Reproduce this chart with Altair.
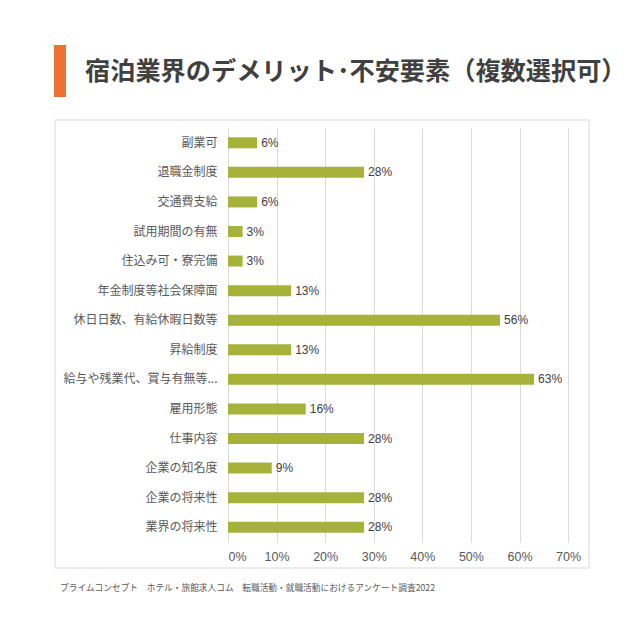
import altair as alt
import pandas as pd

categories = ["副業可", "退職金制度", "交通費支給", "試用期間の有無", "住込み可・寮完備",
              "年金制度等社会保障面", "休日日数、有給休暇日数等", "昇給制度",
              "給与や残業代、賞与有無等...", "雇用形態", "仕事内容", "企業の知名度",
              "企業の将来性", "業界の将来性"]
values = [6, 28, 6, 3, 3, 13, 56, 13, 63, 16, 28, 9, 28, 28]
x_ticks = [0, 10, 20, 30, 40, 50, 60, 70]
title_text = "宿泊業界のデメリット･不安要素（複数選択可）"
source_text = "プライムコンセプト　ホテル・旅館求人コム　転職活動・就職活動におけるアンケート調査2022"

FONT = "Noto Sans CJK JP"
NUMFONT = "Liberation Sans, Arial, sans-serif"
df = pd.DataFrame({"cat": categories, "val": values})
df["label"] = df["val"].astype(str) + "%"

W, H = 361, 414

x_enc = alt.X("val:Q", scale=alt.Scale(domain=[0, 74.3], nice=False),
              axis=alt.Axis(values=x_ticks, labelExpr="datum.value + '%'", title=None,
                            domain=False, ticks=False, grid=True, gridColor="#d9d9d9",
                            labelFont=NUMFONT, labelFontSize=12.5, labelColor="#595959",
                            labelPadding=8))
y_enc = alt.Y("cat:N", sort=None,
              axis=alt.Axis(title=None, domain=False, ticks=False, labelFont=FONT,
                            labelFontSize=12, labelColor="#595959", labelPadding=11,
                            labelLimit=300))

one = pd.DataFrame({"t": [title_text]})
src = pd.DataFrame({"t": [source_text]})

frame = alt.Chart(one).mark_rect(fillOpacity=0, stroke="#d9d9d9", strokeWidth=1).encode(
    x=alt.value(-173), x2=alt.value(361), y=alt.value(-8), y2=alt.value(440))

bars = alt.Chart(df).mark_bar(size=11, color="#a6b23a").encode(x=x_enc, y=y_enc)
labels = alt.Chart(df).mark_text(align="left", dx=4, font=NUMFONT, fontSize=12,
                                 color="#404040").encode(
    x="val:Q", y=alt.Y("cat:N", sort=None), text="label:N")

orange = alt.Chart(one).mark_rect(fill="#ee7032").encode(
    x=alt.value(-174), x2=alt.value(-162), y=alt.value(-83), y2=alt.value(-31))
title = alt.Chart(one).mark_text(align="left", baseline="middle", font=FONT, fontSize=25.2,
                                 fontWeight="bold", color="#404040").encode(
    x=alt.value(-143), y=alt.value(-56), text="t:N")
source = alt.Chart(src).mark_text(align="left", baseline="middle", font=FONT, fontSize=8.7,
                                  color="#595959").encode(
    x=alt.value(-168), y=alt.value(460), text="t:N")

chart = alt.layer(frame, bars, labels, orange, title, source).properties(
    width=W, height=H,
    autosize=alt.AutoSizeParams(type="none"),
    padding={"left": 220, "top": 120, "right": 46, "bottom": 80},
    background="white",
).configure_view(stroke=None)

chart.save("out.html", embed_options={"renderer": "svg", "actions": False})
